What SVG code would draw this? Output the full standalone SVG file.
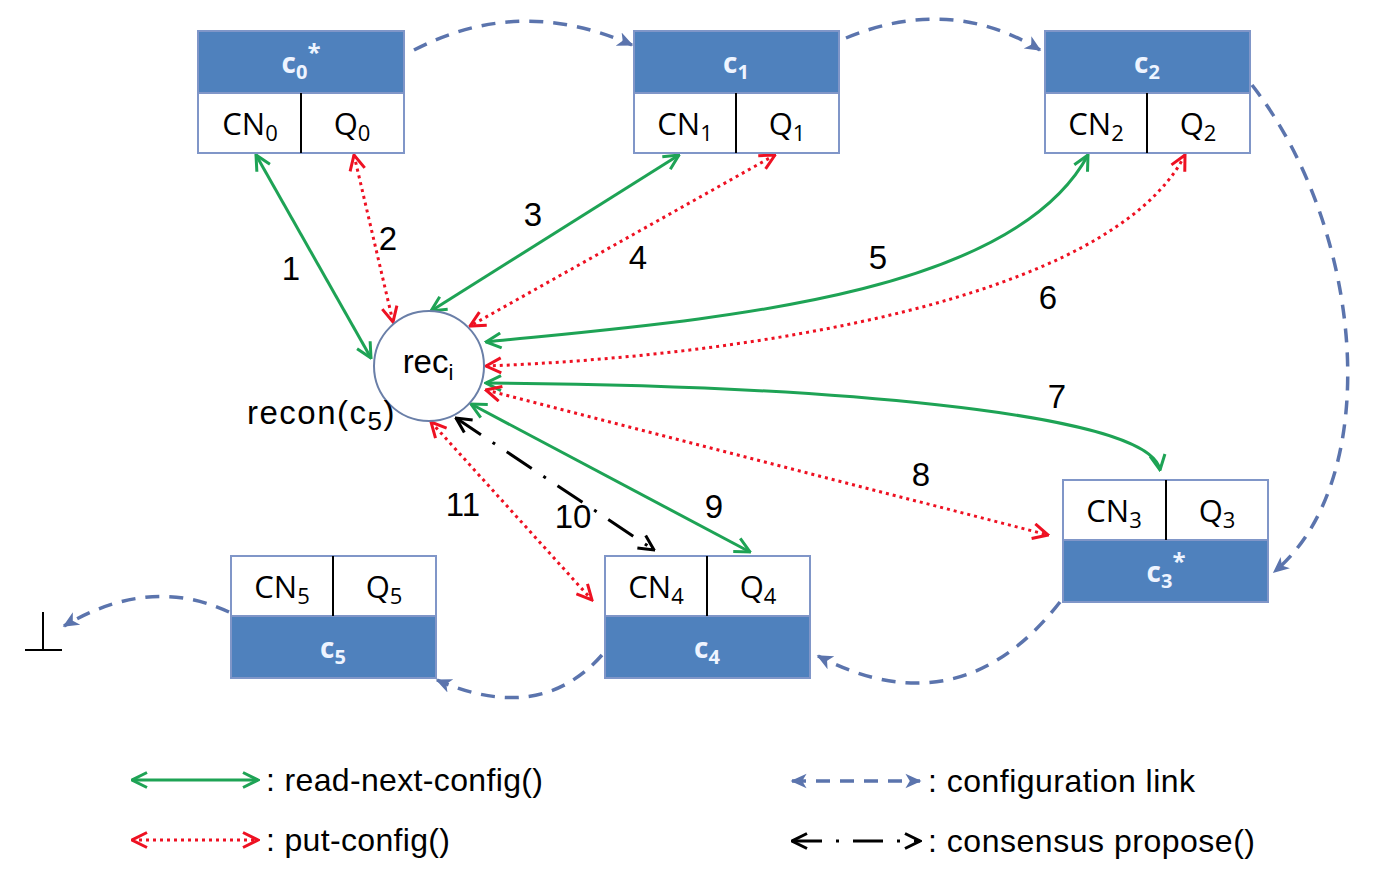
<svg xmlns="http://www.w3.org/2000/svg" width="1384" height="880" viewBox="0 0 1384 880">
<defs>
<style>
.box{fill:#fff;stroke:#8096c8;stroke-width:2}
.hdr{fill:#4f81bd;stroke:#8096c8;stroke-width:2}
.div{stroke:#000;stroke-width:2}
.cell{font-family:"Open Sans","Liberation Sans",sans-serif;font-size:31px;fill:#000;text-anchor:middle}
.hd{font-family:"Open Sans","Liberation Sans",sans-serif;font-size:28px;font-weight:bold;fill:#eef4ff;text-anchor:middle}
.num{font-family:"Liberation Sans",Arial,sans-serif;font-size:33px;fill:#000;text-anchor:middle}
.lg{font-family:"Liberation Sans",Arial,sans-serif;font-size:32px;fill:#000}
.g{fill:none;stroke:#1ea355;stroke-width:3;marker-start:url(#ag);marker-end:url(#ag)}
.r{fill:none;stroke:#ee1122;stroke-width:3;stroke-dasharray:3 4;marker-start:url(#ar);marker-end:url(#ar)}
.b{fill:none;stroke:#5b74ad;stroke-width:3.5;stroke-dasharray:14 10;marker-end:url(#ab)}
.k{fill:none;stroke:#000;stroke-width:3;stroke-dasharray:30 14 3 14;marker-start:url(#ak);marker-end:url(#ak)}
</style>
<marker id="ag" viewBox="0 0 12 12" refX="11" refY="6" markerWidth="6" markerHeight="6" orient="auto-start-reverse" markerUnits="strokeWidth"><path d="M1,1 L11,6 L1,11" fill="none" stroke="#1ea355" stroke-width="2"/></marker>
<marker id="ar" viewBox="0 0 12 12" refX="11" refY="6" markerWidth="6" markerHeight="6" orient="auto-start-reverse" markerUnits="strokeWidth"><path d="M1,1 L11,6 L1,11" fill="none" stroke="#ee1122" stroke-width="2"/></marker>
<marker id="ak" viewBox="0 0 12 12" refX="11" refY="6" markerWidth="6" markerHeight="6" orient="auto-start-reverse" markerUnits="strokeWidth"><path d="M1,1 L11,6 L1,11" fill="none" stroke="#000" stroke-width="2"/></marker>
<marker id="ab" viewBox="0 0 12 12" refX="10" refY="6" markerWidth="5" markerHeight="5" orient="auto-start-reverse" markerUnits="strokeWidth"><path d="M0,1 L11,6 L0,11 L3,6 Z" fill="#5b74ad"/></marker>
</defs>
<rect width="1384" height="880" fill="#fff"/>

<g id="connectors">
<path class="g" d="M256,155 L371,358"/>
<path class="r" d="M354,155 L393,322"/>
<path class="g" d="M679,155 L431,311"/>
<path class="r" d="M775,155 L470,326"/>
<path class="g" d="M486,342 C700,320 1010,300 1088,155"/>
<path class="r" d="M486,366 C750,356 1110,300 1185,155"/>
<path class="g" d="M486,383 C800,385 1150,410 1160,470"/>
<path class="r" d="M486,390 L1048,535"/>
<path class="g" d="M471,404 L750,552"/>
<path class="k" d="M456,418 L654,550"/>
<path class="r" d="M431,422 L592,600"/>
<path class="b" d="M414,50 Q520,-5 632,45"/>
<path class="b" d="M846,38 Q950,-5 1040,50"/>
<path class="b" d="M1252,85 C1365,230 1385,480 1274,572"/>
<path class="b" d="M1060,602 Q960,730 818,656"/>
<path class="b" d="M602,655 Q540,725 437,680"/>
<path class="b" d="M229,612 Q150,575 64,626"/>
<path d="M43,612 L43,650 M25,650 L62,650" stroke="#000" stroke-width="2" fill="none"/>
</g>

<g id="c0">
<rect class="hdr" x="198" y="31" width="206" height="62"/>
<rect class="box" x="198" y="93" width="206" height="60"/>
<line class="div" x1="301" y1="93" x2="301" y2="153"/>
<text class="hd" x="301" y="73">c<tspan font-size="20" dy="6">0</tspan><tspan font-size="24" dy="-18">*</tspan></text>
<text class="cell" x="250" y="135">CN<tspan font-size="22" dy="6">0</tspan></text>
<text class="cell" x="352" y="135">Q<tspan font-size="22" dy="6">0</tspan></text>
</g>
<g id="c1">
<rect class="hdr" x="634" y="31" width="205" height="62"/>
<rect class="box" x="634" y="93" width="205" height="60"/>
<line class="div" x1="736" y1="93" x2="736" y2="153"/>
<text class="hd" x="736" y="73">c<tspan font-size="20" dy="6">1</tspan></text>
<text class="cell" x="685" y="135">CN<tspan font-size="22" dy="6">1</tspan></text>
<text class="cell" x="787" y="135">Q<tspan font-size="22" dy="6">1</tspan></text>
</g>
<g id="c2">
<rect class="hdr" x="1045" y="31" width="205" height="62"/>
<rect class="box" x="1045" y="93" width="205" height="60"/>
<line class="div" x1="1147" y1="93" x2="1147" y2="153"/>
<text class="hd" x="1147" y="73">c<tspan font-size="20" dy="6">2</tspan></text>
<text class="cell" x="1096" y="135">CN<tspan font-size="22" dy="6">2</tspan></text>
<text class="cell" x="1198" y="135">Q<tspan font-size="22" dy="6">2</tspan></text>
</g>
<g id="c3">
<rect class="box" x="1063" y="480" width="205" height="60"/>
<rect class="hdr" x="1063" y="540" width="205" height="62"/>
<line class="div" x1="1166" y1="480" x2="1166" y2="540"/>
<text class="cell" x="1114" y="522">CN<tspan font-size="22" dy="6">3</tspan></text>
<text class="cell" x="1217" y="522">Q<tspan font-size="22" dy="6">3</tspan></text>
<text class="hd" x="1166" y="582">c<tspan font-size="20" dy="6">3</tspan><tspan font-size="24" dy="-18">*</tspan></text>
</g>
<g id="c4">
<rect class="box" x="605" y="556" width="205" height="60"/>
<rect class="hdr" x="605" y="616" width="205" height="62"/>
<line class="div" x1="707" y1="556" x2="707" y2="616"/>
<text class="cell" x="656" y="598">CN<tspan font-size="22" dy="6">4</tspan></text>
<text class="cell" x="758" y="598">Q<tspan font-size="22" dy="6">4</tspan></text>
<text class="hd" x="707" y="658">c<tspan font-size="20" dy="6">4</tspan></text>
</g>
<g id="c5">
<rect class="box" x="231" y="556" width="205" height="60"/>
<rect class="hdr" x="231" y="616" width="205" height="62"/>
<line class="div" x1="333" y1="556" x2="333" y2="616"/>
<text class="cell" x="282" y="598">CN<tspan font-size="22" dy="6">5</tspan></text>
<text class="cell" x="384" y="598">Q<tspan font-size="22" dy="6">5</tspan></text>
<text class="hd" x="333" y="658">c<tspan font-size="20" dy="6">5</tspan></text>
</g>
<g id="rec">
<circle cx="429" cy="366" r="55" fill="#fff" stroke="#6a7fa8" stroke-width="2"/>
<text class="num" x="428" y="373" font-size="34">rec<tspan font-size="22" dy="7">i</tspan></text>
<text class="num" x="247" y="424" font-size="34" letter-spacing="1.5" style="text-anchor:start">recon(c<tspan font-size="26" dy="6">5</tspan><tspan dy="-6">)</tspan></text>
</g>

<g id="labels">
<text class="num" x="291" y="280">1</text>
<text class="num" x="388" y="250">2</text>
<text class="num" x="533" y="226">3</text>
<text class="num" x="638" y="269">4</text>
<text class="num" x="878" y="269">5</text>
<text class="num" x="1048" y="309">6</text>
<text class="num" x="1057" y="408">7</text>
<text class="num" x="921" y="486">8</text>
<text class="num" x="714" y="518">9</text>
<text class="num" x="573" y="528">10</text>
<text class="num" x="463" y="516">11</text>
</g>

<g id="legend">
<path class="g" d="M132,780 L258,780"/>
<text class="lg" x="266" y="791" textLength="277" lengthAdjust="spacing">: read-next-config()</text>
<path class="r" d="M132,840 L258,840"/>
<text class="lg" x="266" y="851" textLength="184" lengthAdjust="spacing">: put-config()</text>
<path d="M792,781 L920,781" fill="none" stroke="#5b74ad" stroke-width="3.5" stroke-dasharray="14 10" marker-start="url(#ab)" marker-end="url(#ab)"/>
<text class="lg" x="928" y="792" textLength="267" lengthAdjust="spacing">: configuration  link</text>
<path class="k" d="M792,841 L920,841"/>
<text class="lg" x="928" y="852" textLength="327" lengthAdjust="spacing">: consensus propose()</text>
</g>
</svg>
